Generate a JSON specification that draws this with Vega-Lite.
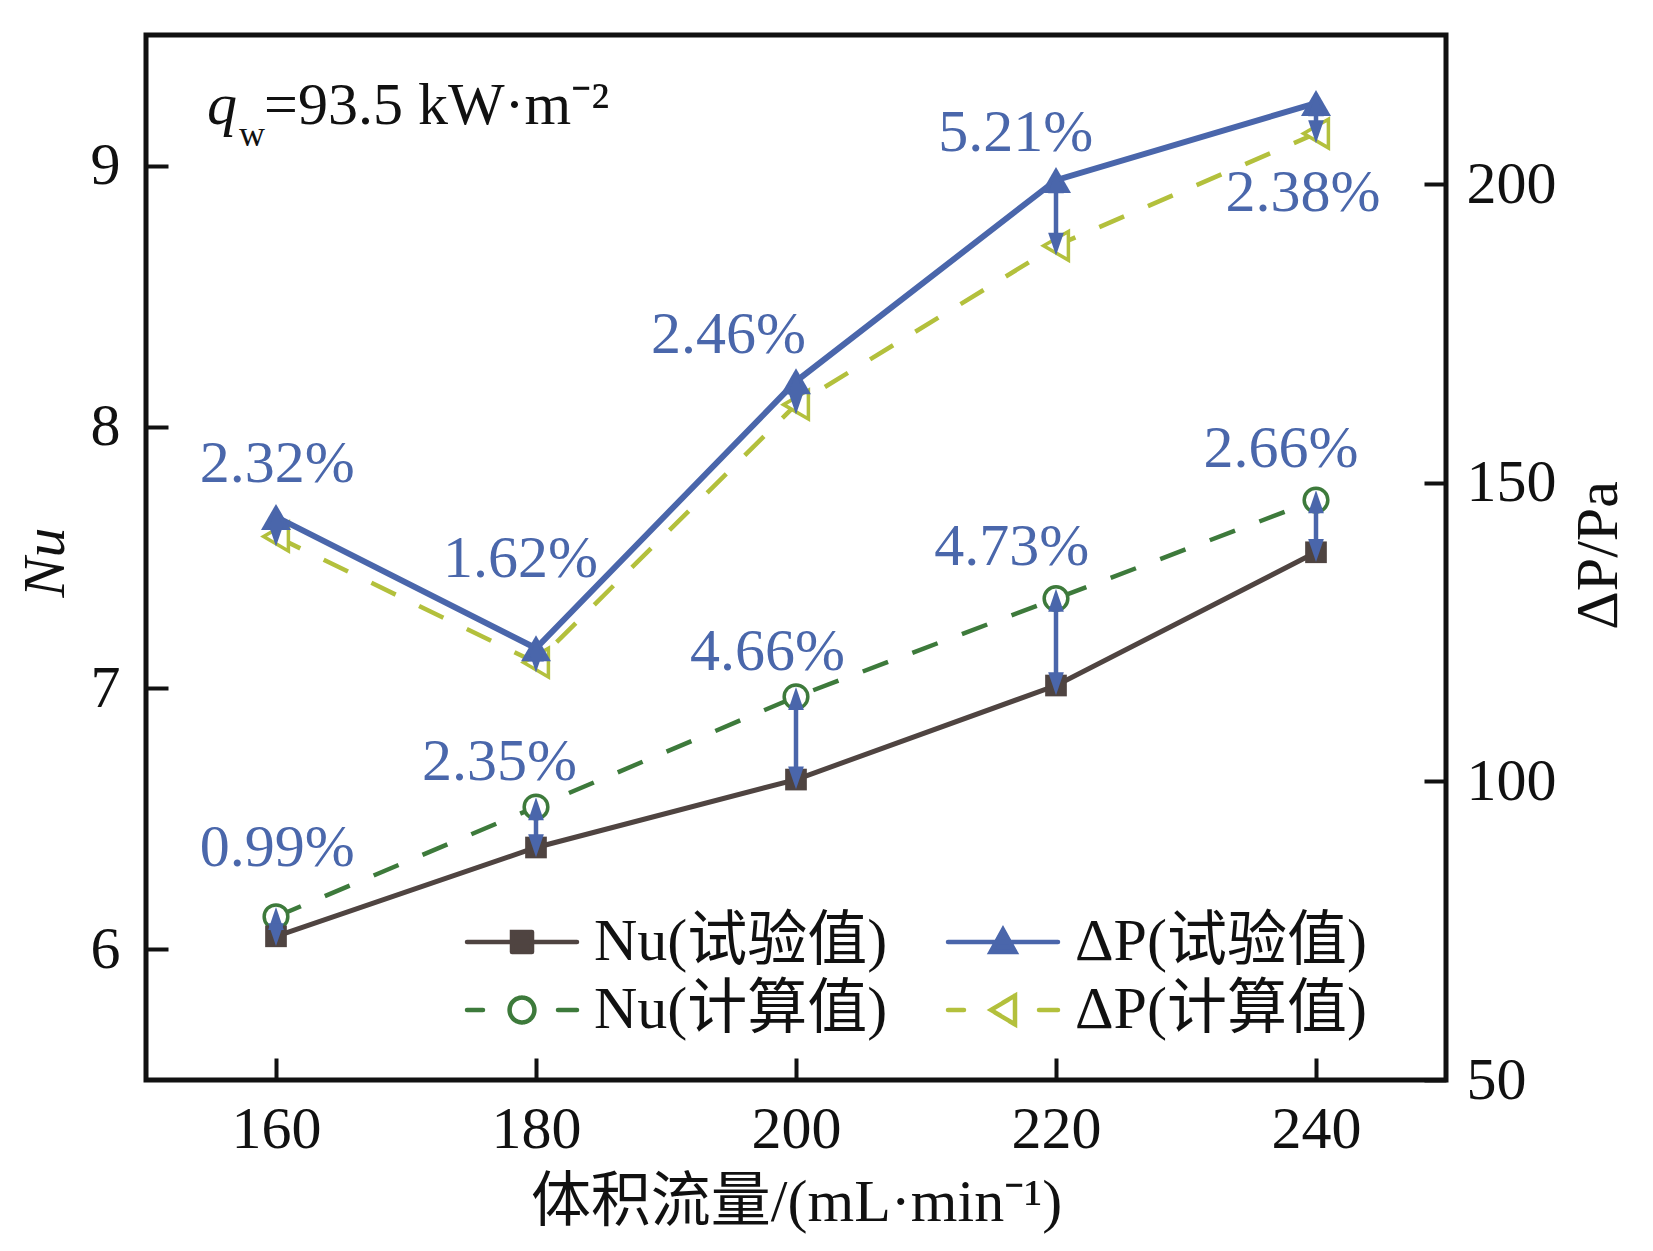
{
  "$schema": "https://vega.github.io/schema/vega-lite/v6.json",
  "width": 1300,
  "height": 1045,
  "autosize": {"type": "none"},
  "padding": {"left": 146, "top": 35, "right": 207, "bottom": 171},
  "background": "white",
  "config": {
    "font": "Liberation Serif, Noto Sans CJK SC",
    "view": {"stroke": "#111111", "strokeWidth": 5},
    "axis": {
      "grid": false,
      "domain": false,
      "tickColor": "#111111",
      "tickWidth": 4,
      "tickSize": -22,
      "labelFontSize": 60,
      "labelColor": "#111111",
      "titleFontSize": 60,
      "titleFontWeight": "normal",
      "titleColor": "#111111"
    },
    "text": {"font": "Liberation Serif, Noto Sans CJK SC"}
  },
  "datasets": {
    "measured": [
      {"flow": 160, "qty": "Nu", "kind": "exp", "series": "Nu(试验值)", "value": 6.05},
      {"flow": 180, "qty": "Nu", "kind": "exp", "series": "Nu(试验值)", "value": 6.39},
      {"flow": 200, "qty": "Nu", "kind": "exp", "series": "Nu(试验值)", "value": 6.65},
      {"flow": 220, "qty": "Nu", "kind": "exp", "series": "Nu(试验值)", "value": 7.01},
      {"flow": 240, "qty": "Nu", "kind": "exp", "series": "Nu(试验值)", "value": 7.52},
      {"flow": 160, "qty": "Nu", "kind": "calc", "series": "Nu(计算值)", "value": 6.125},
      {"flow": 180, "qty": "Nu", "kind": "calc", "series": "Nu(计算值)", "value": 6.545},
      {"flow": 200, "qty": "Nu", "kind": "calc", "series": "Nu(计算值)", "value": 6.967},
      {"flow": 220, "qty": "Nu", "kind": "calc", "series": "Nu(计算值)", "value": 7.343},
      {"flow": 240, "qty": "Nu", "kind": "calc", "series": "Nu(计算值)", "value": 7.72},
      {"flow": 160, "qty": "dP", "kind": "exp", "series": "ΔP(试验值)", "value": 144.3},
      {"flow": 180, "qty": "dP", "kind": "exp", "series": "ΔP(试验值)", "value": 122.3},
      {"flow": 200, "qty": "dP", "kind": "exp", "series": "ΔP(试验值)", "value": 167.0},
      {"flow": 220, "qty": "dP", "kind": "exp", "series": "ΔP(试验值)", "value": 200.7},
      {"flow": 240, "qty": "dP", "kind": "exp", "series": "ΔP(试验值)", "value": 213.6},
      {"flow": 160, "qty": "dP", "kind": "calc", "series": "ΔP(计算值)", "value": 141.0},
      {"flow": 180, "qty": "dP", "kind": "calc", "series": "ΔP(计算值)", "value": 119.9},
      {"flow": 200, "qty": "dP", "kind": "calc", "series": "ΔP(计算值)", "value": 163.1},
      {"flow": 220, "qty": "dP", "kind": "calc", "series": "ΔP(计算值)", "value": 189.7},
      {"flow": 240, "qty": "dP", "kind": "calc", "series": "ΔP(计算值)", "value": 208.5}
    ],
    "pct": [
      {"qty": "Nu", "flow": 160.1, "pos": 6.32, "label": "0.99%"},
      {"qty": "Nu", "flow": 177.2, "pos": 6.65, "label": "2.35%"},
      {"qty": "Nu", "flow": 197.8, "pos": 7.07, "label": "4.66%"},
      {"qty": "Nu", "flow": 216.6, "pos": 7.47, "label": "4.73%"},
      {"qty": "Nu", "flow": 237.3, "pos": 7.845, "label": "2.66%"},
      {"qty": "dP", "flow": 160.1, "pos": 150.2, "label": "2.32%"},
      {"qty": "dP", "flow": 178.8, "pos": 134.3, "label": "1.62%"},
      {"qty": "dP", "flow": 194.8, "pos": 171.8, "label": "2.46%"},
      {"qty": "dP", "flow": 216.9, "pos": 205.5, "label": "5.21%"},
      {"qty": "dP", "flow": 239.0, "pos": 195.5, "label": "2.38%"}
    ],
    "note": [
      {"flow": 154.7, "pos": 9.16, "sym": "q", "sub": "w", "rest": "=93.5 kW·m⁻²"}
    ]
  },
  "data": {"name": "measured"},
  "resolve": {"scale": {"y": "independent"}},
  "layer": [
    {
      "encoding": {
        "x": {
          "field": "flow",
          "type": "quantitative",
          "scale": {"domain": [150, 250], "nice": false, "zero": false},
          "axis": {
            "values": [160, 180, 200, 220, 240],
            "labelPadding": 42,
            "title": "体积流量/(mL·min⁻¹)",
            "titleY": 140,
            "titleBaseline": "alphabetic"
          }
        },
        "y": {
          "field": "value",
          "type": "quantitative",
          "scale": {"domain": [5.5, 9.5], "nice": false, "zero": false},
          "axis": {
            "orient": "left",
            "values": [6, 7, 8, 9],
            "labelPadding": 48,
            "title": "Nu",
            "titleFontStyle": "italic",
            "titleAngle": -90,
            "titleX": -83,
            "titleY": 527,
            "titleBaseline": "alphabetic"
          }
        }
      },
      "layer": [
        {
          "transform": [{"filter": "datum.series === 'Nu(计算值)'"}],
          "mark": {"type": "line", "strokeWidth": 4.5, "strokeDash": [27, 26]},
          "encoding": {
            "color": {
              "field": "series",
              "type": "nominal",
              "scale": {
                "domain": ["Nu(试验值)", "Nu(计算值)", "ΔP(试验值)", "ΔP(计算值)"],
                "range": ["#4f4441", "#3d7a3b", "#4a66ab", "#b3c03c"]
              },
              "legend": {
                "orient": "none",
                "legendX": 320,
                "legendY": 877,
                "columns": 2,
                "title": null,
                "padding": 0,
                "symbolSize": 1600,
                "symbolStrokeWidth": 4.5,
                "symbolOffset": 26,
                "labelOffset": 42,
                "labelFontSize": 60,
                "labelFont": "Liberation Serif, Noto Sans CJK SC",
                "labelColor": "#111111",
                "labelLimit": 800,
                "rowPadding": 8,
                "columnPadding": 51,
                "encode": {
                  "symbols": {
                    "update": {
                      "shape": [
                        {"test": "datum.value === 'Nu(试验值)'", "value": "M-2.75,0L2.75,0M-0.5,-0.5L0.5,-0.5L0.5,0.5L-0.5,0.5Z"},
                        {"test": "datum.value === 'ΔP(试验值)'", "value": "M-2.75,0L2.75,0M0,-0.62L0.62,0.5L-0.62,0.5Z"},
                        {"test": "datum.value === 'Nu(计算值)'", "value": "M-2.75,0L-1.95,0M1.8,0L2.75,0M0.62,0A0.62,0.62 0 1,1 -0.62,0A0.62,0.62 0 1,1 0.62,0Z"},
                        {"value": "M-2.75,0L-1.95,0M1.8,0L2.75,0M-0.6,0L0.6,-0.72L0.6,0.72Z"}
                      ],
                      "fill": [
                        {"test": "datum.value === 'Nu(试验值)'", "value": "#4f4441"},
                        {"test": "datum.value === 'ΔP(试验值)'", "value": "#4a66ab"},
                        {"value": "white"}
                      ],
                      "strokeDash": {"value": [1, 0]},
                      "strokeCap": {"value": "round"},
                      "strokeWidth": {"value": 4.5},
                      "opacity": {"value": 1}
                    }
                  }
                }
              }
            }
          }
        },
        {
          "transform": [{"filter": "datum.series === 'Nu(试验值)'"}],
          "mark": {"type": "line", "strokeWidth": 5},
          "encoding": {"color": {"field": "series", "type": "nominal"}}
        },
        {
          "transform": [{"filter": "datum.series === 'Nu(计算值)'"}],
          "mark": {"type": "point", "shape": "circle", "filled": true, "fill": "white", "stroke": "#3d7a3b", "strokeWidth": 3.5, "size": 560, "opacity": 1}
        },
        {
          "transform": [{"filter": "datum.series === 'Nu(试验值)'"}],
          "mark": {"type": "point", "shape": "square", "filled": true, "color": "#4f4441", "size": 470, "opacity": 1}
        },
        {
          "transform": [
            {"filter": "datum.qty === 'Nu'"},
            {"pivot": "kind", "value": "value", "groupby": ["flow"]}
          ],
          "layer": [
            {
              "mark": {"type": "rule", "color": "#4a66ab", "strokeWidth": 4.5},
              "encoding": {"y": {"field": "exp", "type": "quantitative"}, "y2": {"field": "calc"}}
            },
            {
              "mark": {"type": "point", "shape": "M0,-0.7L0.56,0.94L-0.56,0.94Z", "filled": true, "color": "#4a66ab", "size": 784, "opacity": 1, "strokeWidth": 0},
              "encoding": {"y": {"field": "calc", "type": "quantitative"}}
            },
            {
              "mark": {"type": "point", "shape": "M0,0.7L0.56,-0.94L-0.56,-0.94Z", "filled": true, "color": "#4a66ab", "size": 784, "opacity": 1, "strokeWidth": 0},
              "encoding": {"y": {"field": "exp", "type": "quantitative"}}
            }
          ]
        },
        {
          "data": {"name": "pct"},
          "transform": [{"filter": "datum.qty === 'Nu'"}],
          "mark": {"type": "text", "fontSize": 60, "color": "#4a67ab", "align": "center", "baseline": "alphabetic"},
          "encoding": {
            "y": {"field": "pos", "type": "quantitative"},
            "text": {"field": "label"}
          }
        },
        {
          "data": {"name": "note"},
          "encoding": {"y": {"field": "pos", "type": "quantitative"}},
          "layer": [
            {
              "mark": {"type": "text", "fontSize": 60, "fontStyle": "italic", "color": "#111111", "align": "left", "baseline": "alphabetic"},
              "encoding": {"text": {"field": "sym"}}
            },
            {
              "mark": {"type": "text", "fontSize": 36, "color": "#111111", "align": "left", "baseline": "alphabetic", "dx": 32, "dy": 22},
              "encoding": {"text": {"field": "sub"}}
            },
            {
              "mark": {"type": "text", "fontSize": 60, "color": "#111111", "align": "left", "baseline": "alphabetic", "dx": 57},
              "encoding": {"text": {"field": "rest"}}
            }
          ]
        }
      ]
    },
    {
      "encoding": {
        "x": {"field": "flow", "type": "quantitative"},
        "y": {
          "field": "value",
          "type": "quantitative",
          "scale": {"domain": [50, 225], "nice": false, "zero": false},
          "axis": {
            "orient": "right",
            "values": [50, 100, 150, 200],
            "labelPadding": 42,
            "title": "ΔP/Pa",
            "titleAngle": -90,
            "titleX": 170,
            "titleY": 520,
            "titleBaseline": "alphabetic"
          }
        }
      },
      "layer": [
        {
          "transform": [{"filter": "datum.series === 'ΔP(计算值)'"}],
          "mark": {"type": "line", "strokeWidth": 4.5, "strokeDash": [27, 26]},
          "encoding": {"color": {"field": "series", "type": "nominal"}}
        },
        {
          "transform": [{"filter": "datum.series === 'ΔP(计算值)'"}],
          "mark": {"type": "point", "shape": "triangle-left", "filled": true, "fill": "white", "stroke": "#b3c03c", "strokeWidth": 3.5, "size": 820, "opacity": 1}
        },
        {
          "transform": [{"filter": "datum.series === 'ΔP(试验值)'"}],
          "mark": {"type": "line", "strokeWidth": 6},
          "encoding": {"color": {"field": "series", "type": "nominal"}}
        },
        {
          "transform": [{"filter": "datum.series === 'ΔP(试验值)'"}],
          "mark": {"type": "point", "shape": "triangle-up", "filled": true, "color": "#4a66ab", "size": 900, "opacity": 1}
        },
        {
          "transform": [
            {"filter": "datum.qty === 'dP'"},
            {"pivot": "kind", "value": "value", "groupby": ["flow"]}
          ],
          "layer": [
            {
              "mark": {"type": "rule", "color": "#4a66ab", "strokeWidth": 4.5},
              "encoding": {"y": {"field": "exp", "type": "quantitative"}, "y2": {"field": "calc"}}
            },
            {
              "mark": {"type": "point", "shape": "M0,-0.7L0.56,0.94L-0.56,0.94Z", "filled": true, "color": "#4a66ab", "size": 784, "opacity": 1, "strokeWidth": 0},
              "encoding": {"y": {"field": "exp", "type": "quantitative"}}
            },
            {
              "mark": {"type": "point", "shape": "M0,0.7L0.56,-0.94L-0.56,-0.94Z", "filled": true, "color": "#4a66ab", "size": 784, "opacity": 1, "strokeWidth": 0},
              "encoding": {"y": {"field": "calc", "type": "quantitative"}}
            }
          ]
        },
        {
          "data": {"name": "pct"},
          "transform": [{"filter": "datum.qty === 'dP'"}],
          "mark": {"type": "text", "fontSize": 60, "color": "#4a67ab", "align": "center", "baseline": "alphabetic"},
          "encoding": {
            "y": {"field": "pos", "type": "quantitative"},
            "text": {"field": "label"}
          }
        }
      ]
    }
  ]
}
